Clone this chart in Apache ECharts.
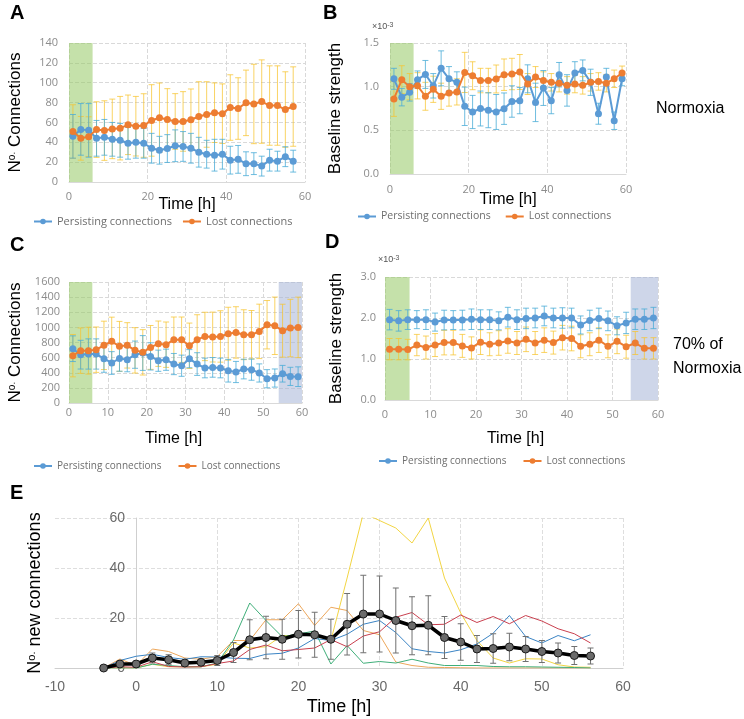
<!DOCTYPE html>
<html>
<head>
<meta charset="utf-8">
<title>Connections over time</title>
<script src="https://cdn.jsdelivr.net/npm/echarts@6/dist/echarts.min.js"></script>
<style>
  html, body { margin: 0; padding: 0; background: #fff; }
  #chart { width: 744px; height: 719px; }
</style>
</head>
<body>
<div id="chart"></div>
<script>
// time points (h)
const timesA = [1, 3, 5, 7, 9, 11, 13, 15, 17, 19, 21, 23, 25, 27, 29, 31, 33, 35, 37, 39, 41, 43, 45, 47, 49, 51, 53, 55, 57];
const timesBCD = [1, 3, 5, 7, 9, 11, 13, 15, 17, 19, 21, 23, 25, 27, 29, 31, 33, 35, 37, 39, 41, 43, 45, 47, 49, 51, 53, 55, 57, 59];
const timesE = [-4, -2, 0, 2, 4, 6, 8, 10, 12, 14, 16, 18, 20, 22, 24, 26, 28, 30, 32, 34, 36, 38, 40, 42, 44, 46, 48, 50, 52, 54, 56];

// A - normoxia, number of connections
const aPersist = [46, 53, 52, 44, 45, 43, 42, 39, 40, 39, 34, 32, 33.7, 36.5, 35.8, 34, 30, 28, 27, 28, 22, 22.8, 18.4, 18.5, 16, 22, 21, 25.5, 21];
const aPersistErr = [22, 26, 27, 18, 18, 17, 17, 16, 16, 15, 15, 14, 14, 16, 15, 15, 15, 14, 16, 15, 14, 14, 12, 11, 10, 11, 10, 10, 11];
const aLost = [50.8, 44, 45.7, 52.8, 51.8, 53.5, 54.2, 57.6, 56.2, 56.9, 62, 64.7, 63, 61, 61, 62.7, 66, 68, 69.8, 68.8, 75, 74, 79.7, 78.6, 81, 77, 77, 73, 76];
const aLostErr = [27, 22, 20, 28, 30, 30, 32, 30, 30, 32, 36, 35, 31, 28, 30, 31, 35, 33, 30, 30, 33, 31, 33, 40, 42, 40, 40, 38, 40];

// B - normoxia, baseline strength (x10^-3)
const bPersist = [1.09, 0.88, 0.935, 1.08, 1.14, 1.01, 1.21, 1.09, 1.05, 0.775, 0.71, 0.75, 0.73, 0.71, 0.748, 0.83, 0.84, 1.09, 0.82, 0.985, 0.84, 1.137, 0.957, 1.156, 1.186, 1.05, 0.69, 1.11, 0.61, 1.09];
const bPersistErr = [0.12, 0.1, 0.1, 0.1, 0.16, 0.14, 0.2, 0.14, 0.12, 0.22, 0.19, 0.2, 0.2, 0.2, 0.18, 0.18, 0.15, 0.16, 0.22, 0.2, 0.15, 0.14, 0.18, 0.13, 0.12, 0.15, 0.12, 0.1, 0.1, 0.08];
const bLost = [0.86, 1.08, 1.0, 1.01, 0.89, 0.97, 0.89, 0.927, 0.94, 1.163, 1.125, 1.07, 1.07, 1.088, 1.137, 1.145, 1.168, 1.03, 1.11, 1.07, 1.05, 1.04, 1.015, 1.03, 1.015, 1.05, 1.06, 1.04, 1.09, 1.156];
const bLostErr = [0.2, 0.16, 0.15, 0.15, 0.16, 0.15, 0.15, 0.15, 0.15, 0.23, 0.16, 0.14, 0.14, 0.16, 0.18, 0.18, 0.2, 0.12, 0.12, 0.1, 0.1, 0.1, 0.1, 0.1, 0.1, 0.1, 0.1, 0.1, 0.1, 0.08];

// C - 70% of normoxia, number of connections
const cPersist = [718, 639, 648, 648, 586, 529, 590, 573, 639, 661, 616, 559, 572, 515, 493, 586, 515, 463, 471, 463, 427, 410, 449, 441, 397, 321, 330, 387, 352, 348];
const cPersistErr = [170, 190, 200, 200, 180, 150, 170, 160, 180, 230, 180, 140, 140, 140, 140, 120, 150, 130, 130, 130, 150, 140, 130, 140, 120, 120, 120, 110, 120, 130];
const cLost = [626, 692, 692, 705, 762, 815, 749, 762, 696, 670, 735, 784, 771, 837, 837, 757, 837, 880, 872, 880, 916, 933, 903, 903, 947, 1035, 1021, 956, 991, 1000];
const cLostErr = [280, 300, 310, 300, 320, 320, 330, 300, 300, 300, 290, 300, 300, 300, 300, 300, 330, 320, 330, 340, 350, 340, 330, 320, 360, 320, 380, 350, 380, 400];

// D - 70% of normoxia, baseline strength (x10^-3)
const dPersist = [1.96, 1.93, 1.96, 1.96, 1.96, 1.9, 1.95, 1.95, 1.95, 1.97, 1.96, 1.96, 1.93, 2.02, 1.96, 1.99, 2.0, 2.05, 2.0, 2.0, 2.0, 1.83, 1.94, 1.99, 1.93, 1.81, 1.88, 1.97, 1.97, 2.0];
const dPersistErr = [0.25, 0.25, 0.24, 0.22, 0.24, 0.22, 0.24, 0.23, 0.24, 0.25, 0.24, 0.24, 0.22, 0.24, 0.24, 0.25, 0.24, 0.24, 0.24, 0.25, 0.24, 0.22, 0.25, 0.25, 0.24, 0.22, 0.26, 0.25, 0.25, 0.26];
const dLost = [1.24, 1.24, 1.23, 1.34, 1.28, 1.34, 1.4, 1.4, 1.32, 1.27, 1.41, 1.36, 1.39, 1.44, 1.39, 1.48, 1.39, 1.46, 1.4, 1.52, 1.5, 1.31, 1.36, 1.46, 1.31, 1.43, 1.3, 1.39, 1.26, 1.26];
const dLostErr = [0.26, 0.26, 0.25, 0.26, 0.28, 0.28, 0.3, 0.3, 0.28, 0.27, 0.3, 0.28, 0.3, 0.3, 0.28, 0.3, 0.28, 0.3, 0.28, 0.3, 0.3, 0.28, 0.28, 0.3, 0.28, 0.3, 0.28, 0.28, 0.26, 0.26];

// E - new connections per experiment + mean
const eMean = [0, 1.6, 1.6, 4, 3.3, 2, 2.3, 3, 6.2, 11.3, 12.2, 11.5, 13.5, 13.3, 11.5, 17.5, 21.6, 21.6, 19, 16.9, 17.1, 12.2, 10.4, 7.6, 7.8, 8.4, 7.6, 6.6, 6.0, 5.0, 4.8];
const eMeanErr = [0, 1, 1, 2, 2, 1, 1, 2, 4, 8, 8.5, 8, 9.5, 9, 8, 12.3, 15.5, 15.2, 13, 11.6, 11.8, 8.4, 7.3, 5.4, 5.9, 5.5, 5, 4.4, 4, 3.6, 3.2];
const eYellow = [0, 0, 0, 1.5, 0.5, 0.5, 0.5, 1.5, 10, 8, 8.5, 13, 13, 13, 11, 36, 62, 59, 56, 50, 60, 36, 22, 11, 4, 2, 3.7, 3.6, 1.3, 0.4, 0.3];
const eOrange = [0, 3.6, 1, 7.6, 6.6, 4, 3.5, 4.6, 11, 11, 19.3, 19.3, 25.7, 17, 24.3, 23, 15, 13.3, 2.4, 1, 0.3, 0.2, 0.1, 0, 0, 0, 0, 0, 0, 0, 0];
const eGreen = [0, 0, 0, 1.5, 1, 0.5, 0.5, 2, 11.2, 26, 19, 12.5, 13.6, 14.8, 1.6, 9, 1.9, 2.6, 2, 3.5, 2, 1, 1, 1, 0.6, 0.5, 0.5, 0.4, 0.3, 0.2, 0];
const eBlue = [0, 3, 4.7, 5.5, 4.2, 3.5, 4.5, 4.4, 3.9, 3.8, 5.5, 5.9, 8, 11.8, 11, 13.5, 17.5, 19, 14.2, 7.7, 6.6, 6, 7.3, 9.6, 13.9, 21, 12.6, 10, 13, 10.9, 13.3];
const eRed = [0, 0.5, 0.3, 2.5, 0.6, 0.4, 0.5, 1.8, 2.8, 7.4, 9.2, 6.9, 7.4, 8, 11.4, 8.5, 12.8, 14.5, 20.3, 22.2, 17.3, 17.5, 21.2, 18.2, 20.6, 17.7, 21, 18.8, 15.7, 13.7, 10];

const BLUE = '#5b9bd5';
const ORANGE = '#ed7d31';
const BLUE_ERR = 'rgba(75,172,215,0.8)';
const YELLOW_ERR = 'rgba(247,196,48,0.75)';
const GRID_LINE = '#d9d9d9';
const LABEL_GREY = '#8c8c8c';
const TITLE_FONT = 'Liberation Sans';
const LABEL_FONT = 'Open Sans';

const pairs = (xs, ys) => xs.map((x, i) => [x, ys[i]]);
const spans = (xs, ys, es) => xs.map((x, i) => [x, ys[i] - es[i], ys[i] + es[i]]);

function errorBar(cap) {
    return function (params, api) {
        const x = api.value(0);
        const lo = api.coord([x, api.value(1)]);
        const hi = api.coord([x, api.value(2)]);
        const style = {stroke: api.visual('color'), lineWidth: 1};
        return {
            type: 'group',
            children: [
                {type: 'line', shape: {x1: lo[0], y1: lo[1], x2: hi[0], y2: hi[1]}, style: style},
                {type: 'line', shape: {x1: hi[0] - cap, y1: hi[1], x2: hi[0] + cap, y2: hi[1]}, style: style},
                {type: 'line', shape: {x1: lo[0] - cap, y1: lo[1], x2: lo[0] + cap, y2: lo[1]}, style: style}
            ]
        };
    };
}

function bandArea(bands) {
    return {
        silent: true,
        data: bands.map(b => [{xAxis: b[0], itemStyle: {color: b[2]}}, {xAxis: b[1]}])
    };
}

const GREEN_BAND = 'rgba(150,200,100,0.55)';
const BLUE_BAND = 'rgba(165,180,215,0.55)';

// four small panels with the same layout
function panelSeries(idx, times, persist, persistErr, lost, lostErr, bands) {
    return [
        {
            type: 'custom', xAxisIndex: idx, yAxisIndex: idx, z: 1,
            renderItem: errorBar(3), itemStyle: {color: YELLOW_ERR},
            encode: {x: 0, y: [1, 2]}, data: spans(times, lost, lostErr)
        },
        {
            type: 'custom', xAxisIndex: idx, yAxisIndex: idx, z: 1,
            renderItem: errorBar(3), itemStyle: {color: BLUE_ERR},
            encode: {x: 0, y: [1, 2]}, data: spans(times, persist, persistErr)
        },
        {
            name: 'Persisting connections', type: 'line', xAxisIndex: idx, yAxisIndex: idx, z: 3,
            symbol: 'circle', symbolSize: 7, color: BLUE,
            lineStyle: {width: 2}, data: pairs(times, persist),
            markArea: bandArea(bands)
        },
        {
            name: 'Lost connections', type: 'line', xAxisIndex: idx, yAxisIndex: idx, z: 4,
            symbol: 'circle', symbolSize: 7, color: ORANGE,
            lineStyle: {width: 2}, data: pairs(times, lost)
        }
    ];
}

function timeAxis(idx, interval, nameGap, labelMargin, shift) {
    return {
        gridIndex: idx, type: 'value', min: 0, max: 60, interval: interval,
        name: 'Time [h]', nameLocation: 'middle', nameGap: nameGap, nameMoveOverlap: false,
        nameTextStyle: {fontFamily: TITLE_FONT, fontSize: 16, color: '#000', padding: [0, shift || 0, 0, 0]},
        axisLine: {show: true, lineStyle: {color: GRID_LINE}},
        axisTick: {show: false},
        axisLabel: {color: LABEL_GREY, fontSize: 11, fontFamily: LABEL_FONT, margin: labelMargin},
        splitLine: {show: true, lineStyle: {color: GRID_LINE, type: 'dashed'}}
    };
}

function valueAxis(idx, max, interval, name, nameGap, labelMargin, decimals) {
    return {
        gridIndex: idx, type: 'value', min: 0, max: max, interval: interval,
        name: name, nameLocation: 'middle', nameGap: nameGap,
        nameTextStyle: {
            fontFamily: TITLE_FONT, fontSize: 17, color: '#000',
            rich: {s: {fontFamily: TITLE_FONT, fontSize: 10, verticalAlign: 'top', color: '#000'}}
        },
        axisLine: {show: false},
        axisTick: {show: false},
        axisLabel: {
            color: LABEL_GREY, fontSize: 11, fontFamily: LABEL_FONT, margin: labelMargin,
            formatter: v => decimals ? v.toFixed(decimals) : String(v)
        },
        splitLine: {show: true, lineStyle: {color: GRID_LINE, type: 'dashed'}}
    };
}

function panelLegend(left, top, fontSize, gap) {
    return {
        left: left, top: top, padding: 0, itemWidth: 18, itemHeight: 7, itemGap: gap,
        data: ['Persisting connections', 'Lost connections'],
        textStyle: {color: '#6e6e6e', fontSize: fontSize, fontFamily: LABEL_FONT},
        selectedMode: false
    };
}

const thin = (color, values) => ({
    type: 'line', xAxisIndex: 4, yAxisIndex: 4, z: 2,
    symbol: 'none', color: color, lineStyle: {width: 1}, data: pairs(timesE, values)
});

const panelText = (x, y, text, size, weight) => ({
    type: 'text', left: x, top: y,
    style: {text: text, fontSize: size, fontFamily: TITLE_FONT, fontWeight: weight || 'normal', fill: '#000'}
});

const chart = echarts.init(document.getElementById('chart'), null, {renderer: 'canvas'});
chart.setOption({
    animation: false,
    backgroundColor: '#fff',
    grid: [
        {left: 69, top: 43, width: 236, height: 139, outerBoundsMode: 'none'},
        {left: 390, top: 43, width: 236, height: 131, outerBoundsMode: 'none'},
        {left: 69, top: 282, width: 233, height: 121, outerBoundsMode: 'none'},
        {left: 385, top: 277, width: 273, height: 123, outerBoundsMode: 'none'},
        {left: 55, top: 518, width: 568, height: 150, outerBoundsMode: 'none'}
    ],
    xAxis: [
        timeAxis(0, 20, 15, 9),
        timeAxis(1, 20, 18, 10),
        timeAxis(2, 10, 28, 4, 24),
        timeAxis(3, 10, 31, 9, 12),
        {
            gridIndex: 4, type: 'value', min: -10, max: 60, interval: 10,
            name: 'Time [h]', nameLocation: 'middle', nameGap: 30,
            nameTextStyle: {fontFamily: TITLE_FONT, fontSize: 18, color: '#000'},
            axisLine: {show: true, lineStyle: {color: '#cfcfcf'}},
            axisTick: {show: false},
            axisLabel: {color: '#6a6a6a', fontSize: 14, fontFamily: TITLE_FONT, margin: 12},
            splitLine: {show: true, showMinLine: false, lineStyle: {color: '#dedede', type: 'dashed'}}
        }
    ],
    yAxis: [
        valueAxis(0, 140, 20, 'N{s|o.} Connections', 45, 11, 0),
        valueAxis(1, 1.5, 0.5, 'Baseline strength', 46, 11, 1),
        valueAxis(2, 1600, 200, 'N{s|o.} Connections', 45, 9, 0),
        valueAxis(3, 3, 1, 'Baseline strength', 40, 9, 1),
        {
            // axis sits on x = 0, which is 81px right of the grid's left edge
            gridIndex: 4, type: 'value', min: 0, max: 60, interval: 20, offset: -81,
            name: 'N{s|o.} new connections', nameLocation: 'middle', nameGap: 92,
            nameTextStyle: {
                fontFamily: TITLE_FONT, fontSize: 18, color: '#000',
                rich: {s: {fontFamily: TITLE_FONT, fontSize: 11, verticalAlign: 'top', color: '#000'}}
            },
            axisLine: {show: true, onZero: false, lineStyle: {color: '#cfcfcf'}},
            axisTick: {show: false},
            axisLabel: {color: '#6a6a6a', fontSize: 14, fontFamily: TITLE_FONT, margin: 11},
            splitLine: {show: true, lineStyle: {color: '#dedede', type: 'dashed'}}
        }
    ],
    legend: [
        panelLegend(33, 216, 11, 10),
        panelLegend(357, 211, 10.5, 14),
        panelLegend(33, 461, 10, 16),
        panelLegend(378, 456, 10, 16)
    ],
    graphic: [
        panelText(10, 3, 'A', 20, 'bold'),
        panelText(323, 3, 'B', 20, 'bold'),
        panelText(10, 235, 'C', 20, 'bold'),
        panelText(325, 232, 'D', 20, 'bold'),
        panelText(10, 483, 'E', 20, 'bold'),
        {
            type: 'text', left: 372, top: 22,
            style: {text: '×10{s|-3}', fontSize: 9, fontFamily: TITLE_FONT, fill: '#555',
                rich: {s: {fontSize: 7, verticalAlign: 'top', fill: '#555'}}}
        },
        {
            type: 'text', left: 378, top: 255,
            style: {text: '×10{s|-3}', fontSize: 9, fontFamily: TITLE_FONT, fill: '#555',
                rich: {s: {fontSize: 7, verticalAlign: 'top', fill: '#555'}}}
        },
        panelText(656, 101, 'Normoxia', 16),
        panelText(673, 337, '70% of', 16),
        panelText(673, 361, 'Normoxia', 16)
    ],
    series: [
        ...panelSeries(0, timesA, aPersist, aPersistErr, aLost, aLostErr, [[0, 6, GREEN_BAND]]),
        ...panelSeries(1, timesBCD, bPersist, bPersistErr, bLost, bLostErr, [[0, 6, GREEN_BAND]]),
        ...panelSeries(2, timesBCD, cPersist, cPersistErr, cLost, cLostErr, [[0, 6, GREEN_BAND], [54, 60, BLUE_BAND]]),
        ...panelSeries(3, timesBCD, dPersist, dPersistErr, dLost, dLostErr, [[0, 5.4, GREEN_BAND], [54, 60, BLUE_BAND]]),
        thin('#f2d544', eYellow),
        thin('#eda75b', eOrange),
        thin('#3fae79', eGreen),
        thin('#3b84c4', eBlue),
        thin('#c9404f', eRed),
        {
            type: 'custom', xAxisIndex: 4, yAxisIndex: 4, z: 3,
            renderItem: errorBar(3), itemStyle: {color: '#707070'},
            encode: {x: 0, y: [1, 2]}, data: spans(timesE, eMean, eMeanErr)
        },
        {
            name: 'Mean', type: 'line', xAxisIndex: 4, yAxisIndex: 4, z: 4,
            symbol: 'circle', symbolSize: 8, color: '#000',
            itemStyle: {color: '#6b6b6b', borderColor: '#1a1a1a', borderWidth: 1},
            lineStyle: {width: 3.5, color: '#000'}, data: pairs(timesE, eMean)
        }
    ]
});
</script>
</body>
</html>
